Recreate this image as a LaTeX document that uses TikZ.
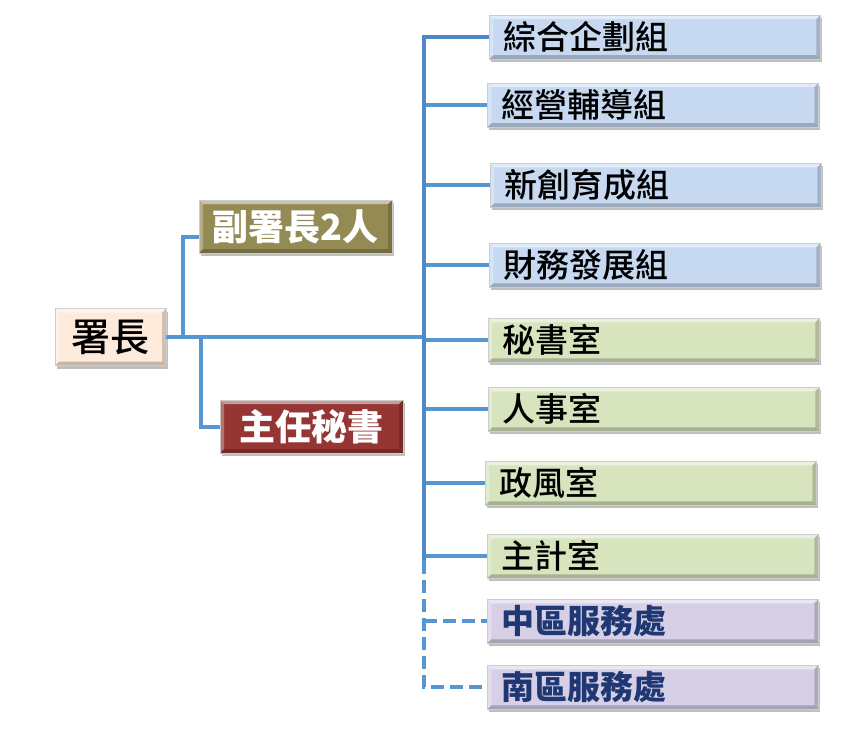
\documentclass[tikz,border=0pt]{standalone}
\usepackage{fontspec}
\newfontfamily\cjk{Noto Sans CJK TC}
\newfontfamily\cjkm{Noto Sans CJK TC Medium}
\usetikzlibrary{shadows}
\definecolor{linec}{HTML}{5596D3}
\definecolor{trunkc}{HTML}{4F88C8}
\definecolor{bluebox}{HTML}{C6D9F1}
\definecolor{greenbox}{HTML}{D7E4BD}
\definecolor{purplebox}{HTML}{D7CFE6}
\definecolor{creambox}{HTML}{FDEADA}
\definecolor{olivebox}{HTML}{948A54}
\definecolor{redbox}{HTML}{963634}
\definecolor{navytext}{HTML}{1F3874}
\tikzset{
  bevel/.style={
    path picture={
      \fill[white,opacity=.5] (path picture bounding box.north west) -- (path picture bounding box.north east) -- ([xshift=-4pt,yshift=-4pt]path picture bounding box.north east) -- ([xshift=4pt,yshift=-4pt]path picture bounding box.north west) -- cycle;
      \fill[white,opacity=.3] (path picture bounding box.north west) -- (path picture bounding box.south west) -- ([xshift=4pt,yshift=4pt]path picture bounding box.south west) -- ([xshift=4pt,yshift=-4pt]path picture bounding box.north west) -- cycle;
      \fill[black,opacity=.22] (path picture bounding box.south west) -- (path picture bounding box.south east) -- ([xshift=-4pt,yshift=4pt]path picture bounding box.south east) -- ([xshift=4pt,yshift=4pt]path picture bounding box.south west) -- cycle;
      \fill[black,opacity=.18] (path picture bounding box.north east) -- (path picture bounding box.south east) -- ([xshift=-4pt,yshift=4pt]path picture bounding box.south east) -- ([xshift=-4pt,yshift=-4pt]path picture bounding box.north east) -- cycle;
    }},
  boxbase/.style={rectangle, bevel, draw=black!20, line width=0.5pt,
    drop shadow={shadow xshift=2pt, shadow yshift=-3pt, fill=black, opacity=.25},
    text depth=0pt},
  rbox/.style={boxbase, anchor=north west, minimum height=44pt,
    text width=303pt, inner xsep=14pt, align=left, text height=24pt,
    font=\cjkm\fontsize{33}{38}\selectfont},
  bluer/.style={rbox, fill=bluebox, text=black},
  greenr/.style={rbox, fill=greenbox, text=black},
  purpler/.style={rbox, fill=purplebox, text=navytext, font=\cjk\bfseries\fontsize{33}{38}\selectfont},
  lbox/.style={boxbase, anchor=center, inner sep=0pt, align=center},
  conn/.style={draw=linec, line width=4pt, line join=miter},
  tconn/.style={conn, draw=trunkc},
  dconn/.style={conn, dash pattern=on 13pt off 6pt},
}
\begin{document}
\begin{tikzpicture}[x=1pt,y=-1pt]
\useasboundingbox (0,0) rectangle (850,738);
% left boxes
\node[lbox, fill=creambox, minimum width=111pt, minimum height=57pt, text height=29.5pt,
      font=\cjkm\fontsize{39}{44}\selectfont] (sz) at (110.5,337) {署長};
\node[lbox, fill=olivebox, text=white, minimum width=193pt, minimum height=53pt, text height=27.5pt,
      font=\cjk\bfseries\fontsize{36}{42}\selectfont] (fu) at (295.5,226.5) {副署長2人};
\node[lbox, fill=redbox, text=white, minimum width=183pt, minimum height=53pt, text height=27.5pt,
      font=\cjk\bfseries\fontsize{36}{42}\selectfont] (zr) at (311.5,426.5) {主任秘書};
% right boxes
\node[bluer] (b1) at (489,15) {綜合企劃組};
\node[bluer] (b2) at (487,83) {經營輔導組};
\node[bluer] (b3) at (490,163) {新創育成組};
\node[bluer] (b4) at (489,243) {財務發展組};
\node[greenr] (g1) at (488,318) {秘書室};
\node[greenr] (g2) at (488,387) {人事室};
\node[greenr] (g3) at (485,461) {政風室};
\node[greenr] (g4) at (487,534) {主計室};
\node[purpler] (p1) at (487,599) {中區服務處};
\node[purpler] (p2) at (487,665) {南區服務處};
% trunk coordinates
\coordinate (tsolid) at (424,561);
\coordinate (j1) at (183,337);
\coordinate (j2) at (201,337);
% connectors
\draw[conn] (sz.east) -- (sz.east -| tsolid);
\draw[conn] (j1) |- ([yshift=-10pt]fu.west);
\draw[conn] (j2) |- (zr.west);
\foreach \b in {b2,b3,b4,g1,g2,g3,g4}{
  \draw[conn] (tsolid |- \b.west) -- (\b.west);
}
\draw[dconn] (tsolid |- p1.west) -- (p1.west);
\draw[dconn] (tsolid) |- (p2.west);
\draw[tconn] (b1.west) -| (tsolid);
\end{tikzpicture}
\end{document}
